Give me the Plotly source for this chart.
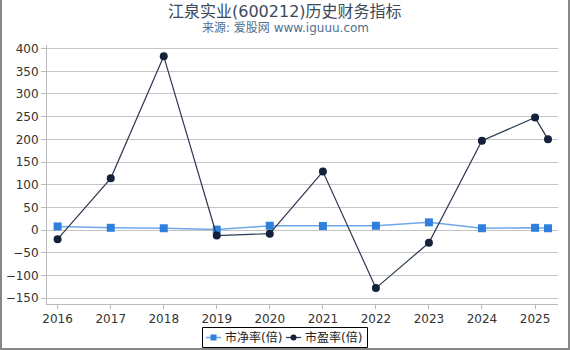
import plotly.graph_objects as go

dates = ["2016-01-01", "2017-01-01", "2018-01-01", "2019-01-01", "2020-01-01",
         "2021-01-01", "2022-01-01", "2023-01-01", "2024-01-01", "2025-01-01", "2025-03-31"]
pb = [8, 5, 4, 1, 9.5, 9, 9.5, 17, 4, 5, 4]
pe = [-20, 114, 383, -12, -8, 129, -128, -28, 197, 248, 200]
series_names = ["市净率(倍)", "市盈率(倍)"]
ytick_vals = [400, 350, 300, 250, 200, 150, 100, 50, 0, -50, -100, -150]
xtick_vals = ["2016-01-01", "2017-01-01", "2018-01-01", "2019-01-01", "2020-01-01",
              "2021-01-01", "2022-01-01", "2023-01-01", "2024-01-01", "2025-01-01"]
xtick_text = ["2016", "2017", "2018", "2019", "2020", "2021", "2022", "2023", "2024", "2025"]

W, H = 570, 350
ML, MR, MT, MB = 47, 12, 45, 46
pw, ph = W - ML - MR, H - MT - MB

def px(x):
    return (x - ML) / pw

def py(y):
    return (H - MB - y) / ph

PB_LINE, PB_MARK = "#6fa8ea", "#2f80dc"
PE_LINE, PE_MARK = "#2b3a52", "#13223a"

fig = go.Figure()
fig.add_trace(go.Scatter(
    x=dates, y=pb, name=series_names[0], mode="lines+markers",
    line=dict(color=PB_LINE, width=1.5),
    marker=dict(symbol="square", size=8, color=PB_MARK),
))
fig.add_trace(go.Scatter(
    x=dates, y=pe, name=series_names[1], mode="lines+markers",
    line=dict(color=PE_LINE, width=1.2),
    marker=dict(symbol="circle", size=8, color=PE_MARK),
))

font = "DejaVu Sans, Noto Sans CJK SC, sans-serif"

shapes = [
    dict(type="line", xref="paper", yref="paper", x0=px(1), x1=px(1), y0=py(0), y1=py(350),
         line=dict(color="#888888", width=2)),
    dict(type="line", xref="paper", yref="paper", x0=px(569), x1=px(569), y0=py(0), y1=py(350),
         line=dict(color="#888888", width=2)),
    dict(type="line", xref="paper", yref="paper", x0=px(0), x1=px(570), y0=py(349), y1=py(349),
         line=dict(color="#888888", width=2)),
    # legend box
    dict(type="rect", xref="paper", yref="paper", x0=px(202.5), x1=px(367.5), y0=py(327.5), y1=py(347.5),
         line=dict(color="#000000", width=1), fillcolor="rgba(255,255,255,0)"),
    # legend item 1
    dict(type="line", xref="paper", yref="paper", x0=px(206), x1=px(221), y0=py(337.5), y1=py(337.5),
         line=dict(color=PB_LINE, width=1.5)),
    dict(type="rect", xref="paper", yref="paper", x0=px(210.5), x1=px(216.5), y0=py(334.5), y1=py(340.5),
         line=dict(width=0), fillcolor=PB_MARK),
    # legend item 2
    dict(type="line", xref="paper", yref="paper", x0=px(286), x1=px(301), y0=py(337.5), y1=py(337.5),
         line=dict(color=PE_LINE, width=1.2)),
    dict(type="circle", xref="paper", yref="paper", x0=px(290.5), x1=px(296.5), y0=py(334.5), y1=py(340.5),
         line=dict(width=0), fillcolor=PE_MARK),
]

fig.update_layout(
    width=W, height=H,
    margin=dict(l=ML, r=MR, t=MT, b=MB, autoexpand=False),
    paper_bgcolor="white", plot_bgcolor="white",
    font=dict(family=font, size=12, color="#333333"),
    showlegend=False,
    xaxis=dict(
        type="date", range=["2015-10-20", "2025-06-08"],
        tickvals=xtick_vals, ticktext=xtick_text, tickangle=0,
        showgrid=False, zeroline=False,
        showline=True, linecolor="#bbbbbb", linewidth=1,
        ticks="outside", ticklen=4, tickcolor="#bbbbbb",
        tickfont=dict(size=12, color="#333333"),
    ),
    yaxis=dict(
        range=[-163, 408], tickvals=ytick_vals,
        showgrid=True, gridcolor="#c4c4c4", gridwidth=1,
        zeroline=False,
        showline=True, linecolor="#bbbbbb", linewidth=1,
        ticks="outside", ticklen=5, tickcolor="#bbbbbb",
        tickfont=dict(size=12, color="#333333"),
    ),
    annotations=[
        dict(text="江泉实业(600212)历史财务指标", x=px(285), xref="paper",
             y=py(11), yref="paper", xanchor="center", yanchor="middle",
             showarrow=False, font=dict(size=16, color="#3a4a5c", family=font)),
        dict(text="来源: 爱股网 www.iguuu.com", x=px(285), xref="paper",
             y=py(28), yref="paper", xanchor="center", yanchor="middle",
             showarrow=False, font=dict(size=12, color="#4f6f93", family=font)),
        dict(text=series_names[0], x=px(223), xref="paper", y=py(337.5), yref="paper",
             xanchor="left", yanchor="middle", showarrow=False,
             font=dict(size=12, color="#222222", family=font)),
        dict(text=series_names[1], x=px(303), xref="paper", y=py(337.5), yref="paper",
             xanchor="left", yanchor="middle", showarrow=False,
             font=dict(size=12, color="#222222", family=font)),
    ],
    shapes=shapes,
)

fig.write_html("out.html")
